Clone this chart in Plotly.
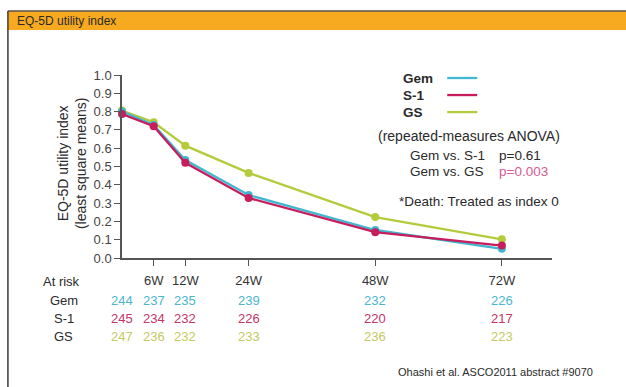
import plotly.graph_objects as go

# Visit weeks and least-square means of the EQ-5D utility index
weeks = [0, 6, 12, 24, 48, 72]
gem = [0.80, 0.727, 0.535, 0.344, 0.153, 0.050]
s1 = [0.787, 0.720, 0.520, 0.328, 0.141, 0.068]
gs = [0.806, 0.742, 0.614, 0.465, 0.224, 0.102]

# Patients at risk at each visit
risk_gem = [244, 237, 235, 239, 232, 226]
risk_s1 = [245, 234, 232, 226, 220, 217]
risk_gs = [247, 236, 232, 233, 236, 223]

tick_weeks = [6, 12, 24, 48, 72]
tick_text = ["6W", "12W", "24W", "48W", "72W"]
y_ticks = [0.0, 0.1, 0.2, 0.3, 0.4, 0.5, 0.6, 0.7, 0.8, 0.9, 1.0]

C_GEM = "#3fb7d1"
C_S1 = "#c81d5c"
C_GS = "#b4cb3c"
C_GEM_T = "#4cb6cf"
C_S1_T = "#c43566"
C_GS_T = "#c5ca62"
C_PINK = "#d65a92"
INK = "#2a2a2a"
FONT = "Liberation Sans, Arial, sans-serif"

W, H = 626, 387
L, R = 122, 551.7
T, B = 75, 257.7


def px(x):
    return (x - L) / (R - L)


def py(y):
    return (B - y) / (B - T)


fig = go.Figure()
for name, vals, col in [("GS", gs, C_GS), ("Gem", gem, C_GEM), ("S-1", s1, C_S1)]:
    fig.add_trace(go.Scatter(
        x=weeks, y=vals, name=name, mode="lines+markers",
        line=dict(color=col, width=2.3),
        marker=dict(color=col, size=8),
        cliponaxis=False, showlegend=False,
    ))

ann = []
shapes = []

# Header band
shapes.append(dict(type="rect", xref="paper", yref="paper",
                   x0=px(8), x1=px(630), y0=py(30), y1=py(11),
                   fillcolor="#f7aa1f", line=dict(width=0), layer="below"))
shapes.append(dict(type="line", xref="paper", yref="paper",
                   x0=px(8), x1=px(630), y0=py(11), y1=py(11),
                   line=dict(color="#5a5048", width=1.5)))
shapes.append(dict(type="line", xref="paper", yref="paper",
                   x0=px(8), x1=px(8), y0=py(11), y1=py(390),
                   line=dict(color="#3a3a3a", width=1.5)))
ann.append(dict(text="EQ-5D utility index", xref="paper", yref="paper",
                x=px(15), y=py(21), xanchor="left", yanchor="middle",
                showarrow=False, font=dict(size=12, color=INK)))

# Y-axis title
ann.append(dict(text="EQ-5D utility index<br>(least square means)",
                xref="paper", yref="paper", x=px(72), y=py(163),
                xanchor="center", yanchor="middle", textangle=-90,
                showarrow=False, font=dict(size=14, color=INK)))

# Legend
for i, (lab, col) in enumerate([("Gem", C_GEM), ("S-1", C_S1), ("GS", C_GS)]):
    yy = 78 + 17 * i
    ann.append(dict(text=f"<b>{lab}</b>", xref="paper", yref="paper",
                    x=px(401), y=py(yy), xanchor="left", yanchor="middle",
                    showarrow=False, font=dict(size=13.5, color=INK)))
    shapes.append(dict(type="line", xref="paper", yref="paper",
                       x0=px(447), x1=px(477), y0=py(yy), y1=py(yy),
                       line=dict(color=col, width=2.3)))

ann.append(dict(text="(repeated-measures ANOVA)", xref="paper", yref="paper",
                x=px(468.5), y=py(136), xanchor="center", yanchor="middle",
                showarrow=False, font=dict(size=14, color=INK)))
ann.append(dict(text="Gem vs. S-1", xref="paper", yref="paper",
                x=px(407.5), y=py(155.5), xanchor="left", yanchor="middle",
                showarrow=False, font=dict(size=13.5, color=INK)))
ann.append(dict(text="p=0.61", xref="paper", yref="paper",
                x=px(496.5), y=py(155.5), xanchor="left", yanchor="middle",
                showarrow=False, font=dict(size=13.5, color=INK)))
ann.append(dict(text="Gem vs. GS", xref="paper", yref="paper",
                x=px(407.5), y=py(171), xanchor="left", yanchor="middle",
                showarrow=False, font=dict(size=13.5, color=INK)))
ann.append(dict(text="p=0.003", xref="paper", yref="paper",
                x=px(496.5), y=py(171), xanchor="left", yanchor="middle",
                showarrow=False, font=dict(size=13.5, color=C_PINK)))
ann.append(dict(text="*Death: Treated as index 0", xref="paper", yref="paper",
                x=px(397), y=py(201.5), xanchor="left", yanchor="middle",
                showarrow=False, font=dict(size=13.5, color=INK)))

# At-risk table
ann.append(dict(text="At risk", xref="paper", yref="paper",
                x=px(82), y=py(281), xanchor="right", yanchor="middle",
                showarrow=False, font=dict(size=13, color=INK)))
rows = [("Gem", risk_gem, C_GEM_T, 300), ("S-1", risk_s1, C_S1_T, 318),
        ("GS", risk_gs, C_GS_T, 336)]
for lab, vals, col, yy in rows:
    ann.append(dict(text=lab, xref="paper", yref="paper",
                    x=px(64), y=py(yy), xanchor="center", yanchor="middle",
                    showarrow=False, font=dict(size=13, color=INK)))
    for w, v in zip(weeks, vals):
        ann.append(dict(text=str(v), xref="x", yref="paper",
                        x=w, y=py(yy), xanchor="center", yanchor="middle",
                        showarrow=False, font=dict(size=13, color=col)))

ann.append(dict(text="Ohashi et al. ASCO2011 abstract #9070", xref="paper",
                yref="paper", x=px(595), y=py(372), xanchor="right",
                yanchor="middle", showarrow=False,
                font=dict(size=11, color=INK)))

fig.update_layout(
    width=W, height=H,
    margin=dict(l=L, r=W - R, t=T, b=H - B, pad=0),
    paper_bgcolor="white", plot_bgcolor="white",
    font=dict(family=FONT, size=13, color=INK),
    annotations=ann, shapes=shapes,
    xaxis=dict(range=[0, 81.5], tickmode="array", tickvals=tick_weeks,
               ticktext=tick_text, ticks="outside", ticklen=6,
               tickcolor="#555", tickwidth=1.2, showline=True,
               linecolor="#555", linewidth=1.5, showgrid=False,
               zeroline=False, ticklabelstandoff=4,
               tickfont=dict(size=13, color="#333")),
    yaxis=dict(range=[0, 1], tickmode="array", tickvals=y_ticks,
               ticktext=[f"{v:.1f}" for v in y_ticks], ticks="outside",
               ticklen=6, tickcolor="#555", tickwidth=1.2, showline=True,
               linecolor="#555", linewidth=1.5, showgrid=False,
               zeroline=False, tickfont=dict(size=13, color="#444")),
)

fig.write_html("out.html")
